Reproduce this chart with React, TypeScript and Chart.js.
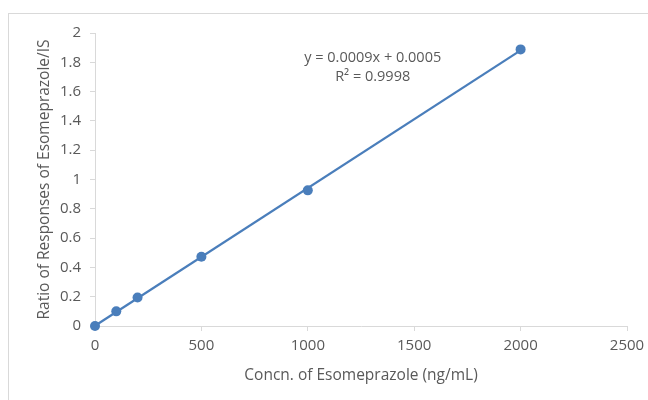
import React, { useEffect, useRef } from "react";
import { Chart, registerables } from "chart.js";

Chart.register(...registerables);

const concentrations = [0, 100, 200, 500, 1000, 2000];
const ratios = [0, 0.1, 0.195, 0.473, 0.926, 1.888];
const equationText = "y = 0.0009x + 0.0005";
const r2Text = "R² = 0.9998";
const xTitle = "Concn. of Esomeprazole (ng/mL)";
const yTitle = "Ratio of Responses of Esomeprazole/IS";

const FONT = "'Open Sans', sans-serif";
const TEXT = "#595959";
const AXIS = "#d9d9d9";
const BLUE = "#4a7ebb";

function fitLine(xs: number[], ys: number[]) {
  const n = xs.length;
  const mx = xs.reduce((a, b) => a + b, 0) / n;
  const my = ys.reduce((a, b) => a + b, 0) / n;
  let sxy = 0, sxx = 0;
  for (let i = 0; i < n; i++) {
    sxy += (xs[i] - mx) * (ys[i] - my);
    sxx += (xs[i] - mx) * (xs[i] - mx);
  }
  const m = sxy / sxx;
  return { m, b: my - m * mx };
}

export default function App() {
  const ref = useRef<HTMLCanvasElement>(null);
  useEffect(() => {
    if (!ref.current) return;
    const { m, b } = fitLine(concentrations, ratios);
    const xMin = Math.min(...concentrations);
    const xMax = Math.max(...concentrations);
    const trend = [
      { x: xMin, y: m * xMin + b },
      { x: xMax, y: m * xMax + b },
    ];
    const frame = {
      id: "frame",
      beforeDraw(chart: any) {
        const ctx = chart.ctx;
        ctx.save();
        ctx.fillStyle = "#ffffff";
        ctx.fillRect(0, 0, chart.width, chart.height);
        ctx.strokeStyle = AXIS;
        ctx.lineWidth = 1;
        ctx.strokeRect(8.5, 13.5, chart.width + 20, chart.height + 20);
        ctx.restore();
      },
      afterDraw(chart: any) {
        const ctx = chart.ctx;
        const xs = chart.scales.x;
        const ys = chart.scales.y;
        const cx = xs.getPixelForValue(1305);
        const cy = ys.getPixelForValue(1.83);
        ctx.save();
        ctx.fillStyle = TEXT;
        ctx.font = `14.5px ${FONT}`;
        ctx.textAlign = "center";
        ctx.textBaseline = "middle";
        ctx.fillText(equationText, cx, cy);
        ctx.fillText(r2Text, cx, cy + 19);
        ctx.restore();
      },
    };
    const chart = new Chart(ref.current, {
      type: "scatter",
      data: {
        datasets: [
          {
            data: trend,
            showLine: true,
            borderColor: BLUE,
            borderWidth: 2.25,
            pointRadius: 0,
            pointHoverRadius: 0,
            clip: false,
          },
          {
            data: concentrations.map((x, i) => ({ x, y: ratios[i] })),
            backgroundColor: BLUE,
            borderColor: BLUE,
            pointRadius: 5,
            pointBorderWidth: 0,
            clip: false,
          },
        ],
      },
      options: {
        responsive: false,
        animation: false,
        layout: { padding: { left: 0, top: 33, right: 21, bottom: 0 } },
        plugins: { legend: { display: false }, tooltip: { enabled: false } },
        scales: {
          x: {
            type: "linear",
            min: 0,
            max: 2500,
            ticks: { stepSize: 500, color: TEXT, font: { family: FONT, size: 15 }, padding: 6, maxRotation: 0,
              callback: (v: any) => String(v) },
            grid: { display: true, drawOnChartArea: false, drawTicks: true, tickLength: 5, color: AXIS },
            border: { display: true, color: AXIS, width: 1 },
            title: { display: true, text: xTitle, color: TEXT, font: { family: FONT, size: 15.5 }, padding: { top: 0, bottom: 15 } },
            afterFit(scale: any) { scale.height = 74; scale.paddingLeft = 0; scale.paddingRight = 0; },
          },
          y: {
            type: "linear",
            min: 0,
            max: 2,
            ticks: { stepSize: 0.2, color: TEXT, font: { family: FONT, size: 15 }, padding: 9,
              callback: (v: any) => String(Math.round(Number(v) * 10) / 10) },
            grid: { display: true, drawOnChartArea: false, drawTicks: true, tickLength: 5, color: AXIS },
            border: { display: true, color: AXIS, width: 1 },
            title: { display: true, text: yTitle, color: TEXT, font: { family: FONT, size: 15.5 }, padding: { top: 35, bottom: 0 } },
            afterFit(scale: any) { scale.width = 95; scale.paddingTop = 0; scale.paddingBottom = 0; },
          },
        },
      },
      plugins: [frame],
    });
    return () => chart.destroy();
  }, []);
  return (
    <div style={{ position: "fixed", left: 0, top: 0, width: 648, height: 400 }}>
      <canvas ref={ref} width={648} height={400} />
    </div>
  );
}
